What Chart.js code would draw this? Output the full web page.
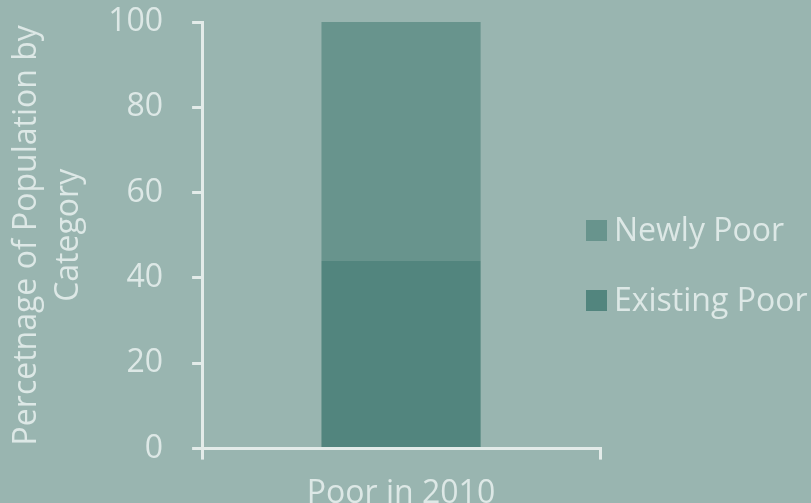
<!DOCTYPE html>
<html>
<head>
<meta charset="utf-8">
<script src="https://cdn.jsdelivr.net/npm/chart.js@4/dist/chart.umd.min.js"></script>
<style>
  html, body { margin: 0; padding: 0; background: #99b5b0; }
  canvas { display: block; }
</style>
</head>
<body>
<canvas id="poorChart" width="811" height="503"></canvas>
<script>
// categories and stacked shares (percent)
const categories = ['Poor in 2010'];
const existingPoor = [44];
const newlyPoor = [56];
const yTitle = ['Percetnage of Population by', 'Category'];

const textColor = '#dde8e6';
const lineColor = '#e3ebe9';
const fontFamily = "'Open Sans', 'Noto Sans', sans-serif";

// legend drawn by hand: stacked items to the right of the plot, top item first
const sideLegend = {
    id: 'sideLegend',
    afterDraw(chart) {
        const ctx = chart.ctx;
        const items = chart.data.datasets.slice().reverse();
        const x = chart.chartArea.right - 14;
        let y = 231;
        ctx.save();
        ctx.font = '32px ' + fontFamily;
        ctx.textBaseline = 'middle';
        items.forEach(ds => {
            ctx.fillStyle = ds.backgroundColor;
            ctx.fillRect(x, y - 11, 21, 21);
            ctx.fillStyle = textColor;
            ctx.fillText(ds.label, x + 28, y + 1);
            y += 70;
        });
        ctx.restore();
    }
};

new Chart(document.getElementById('poorChart'), {
    type: 'bar',
    data: {
        labels: categories,
        datasets: [{
            label: 'Existing Poor',
            data: existingPoor,
            backgroundColor: '#52857e',
            borderWidth: 0
        }, {
            label: 'Newly Poor',
            data: newlyPoor,
            backgroundColor: '#68948d',
            borderWidth: 0
        }]
    },
    options: {
        responsive: false,
        animation: false,
        layout: {
            padding: { top: 0, right: 211, bottom: -25, left: -33 }
        },
        categoryPercentage: 0.4,
        barPercentage: 1,
        plugins: {
            legend: { display: false },
            tooltip: { enabled: false }
        },
        scales: {
            x: {
                stacked: true,
                grid: {
                    offset: true,
                    drawOnChartArea: false,
                    color: lineColor,
                    tickColor: lineColor,
                    tickLength: 11,
                    lineWidth: 3
                },
                border: { color: lineColor, width: 3 },
                ticks: {
                    color: textColor,
                    padding: 15,
                    font: { family: fontFamily, size: 32 }
                }
            },
            y: {
                stacked: true,
                min: 0,
                max: 100,
                // keep the wide label gap from pushing the plot down
                afterFit(scale) {
                    scale.paddingTop = 22;
                    scale.paddingBottom = 0;
                },
                ticks: {
                    stepSize: 20,
                    color: textColor,
                    padding: 29,
                    font: { family: fontFamily, size: 32 }
                },
                grid: {
                    drawOnChartArea: false,
                    color: lineColor,
                    tickColor: lineColor,
                    tickLength: 10,
                    lineWidth: 3
                },
                border: { color: lineColor, width: 3 },
                title: {
                    display: true,
                    text: yTitle,
                    color: textColor,
                    padding: { top: 39, bottom: -10 },
                    font: { family: fontFamily, size: 32, lineHeight: 1.3 }
                }
            }
        }
    },
    plugins: [sideLegend]
});
</script>
</body>
</html>
